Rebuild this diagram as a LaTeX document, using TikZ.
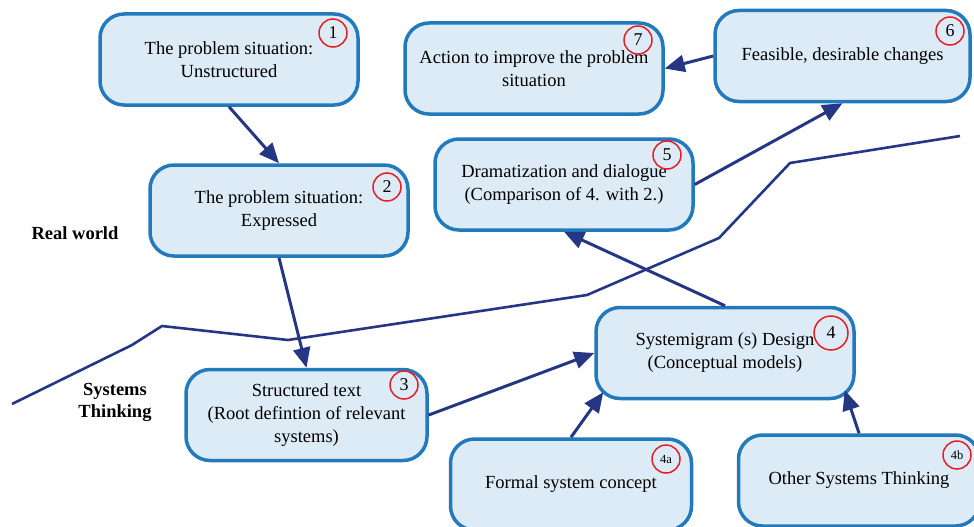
\documentclass[tikz,border=0pt]{standalone}
\usepackage{fontspec}
\setmainfont{Liberation Serif}
\usetikzlibrary{arrows.meta,calc}
\definecolor{boxfill}{RGB}{221,235,247}
\definecolor{boxline}{RGB}{34,122,188}
\definecolor{navy}{RGB}{37,54,133}
\definecolor{badgered}{RGB}{232,30,37}

\begin{document}
\begin{tikzpicture}[x=1pt, y=-1pt,
        box/.style={rectangle, rounded corners=24pt, draw=boxline, fill=boxfill, line width=3.5pt, minimum width=258pt, minimum height=91pt, inner sep=0pt, text centered, align=center, font=\fontsize{18.5}{23}\selectfont},
        badge/.style={circle, draw=badgered, line width=1.5pt, minimum size=28pt, inner sep=0pt, font=\fontsize{18}{18}\selectfont},
        smallbadge/.style={badge, font=\fontsize{12.5}{12.5}\selectfont},
        arrow/.style={-{Triangle[length=20pt,width=17pt]}, line width=3pt, draw=navy},
        side/.style={align=center, font=\bfseries\fontsize{18.5}{22}\selectfont}
    ]
        \clip (0,0) rectangle (974,527);

        % Boundary between the two worlds
        \draw[navy, line width=2.6pt] (12,404) -- (132,345) -- (162,326) -- (288,340) -- (587,295) -- (719,238) -- (790,163) -- (960,136);

        % Real world
        \node[box] (b1) at (229,59.5) {The problem situation:\\Unstructured};
        \node[box] (b2) at (279,210.5) {The problem situation:\\Expressed};
        \node[box] (b5) at (564,184.5) {Dramatization and dialogue\\(Comparison of 4. with 2.)};
        \node[box, minimum width=255pt] (b6) at (842.5,56) {Feasible, desirable changes};
        \node[box] (b7) at (534,68.5) {Action to improve the problem\\situation};

        % Systems thinking
        \node[box, minimum width=241pt] (b3) at (306.5,415) {Structured text\\(Root defintion of relevant\\systems)};
        \node[box] (b4) at (725,353) {Systemigram (s) Design\\(Conceptual models)};
        \node[box, minimum width=241pt] (b4a) at (571,484.5) {Formal system concept};
        \node[box, minimum width=241pt] (b4b) at (859,480.5) {Other Systems Thinking};

        % Step numbers
        \node[badge] (n1) at (333,33) {1};
        \node[badge] (n2) at (387,187) {2};
        \node[badge] (n3) at (404,385) {3};
        \node[badge, minimum size=34pt] (n4) at (831,333) {4};
        \node[badge] (n5) at (667,155) {5};
        \node[badge] (n6) at (950,31) {6};
        \node[badge] (n7) at (638,40) {7};
        \node[smallbadge] (n4a) at (666,459) {4a};
        \node[smallbadge] (n4b) at (957,455) {4b};

        % Arrows
        \draw[arrow] (b1.south) -- (b2.north);
        \draw[arrow] (b2.south) -- (b3.north);
        \draw[arrow] (b3.east) -- (b4.west);
        \draw[arrow] (b4a.north) -- ($(b4.south west)+(9,-8)$);
        \draw[arrow] (b4b.north) -- ($(b4.south east)+(-11,-10)$);
        \draw[arrow] (b4.north) -- (b5.south);
        \draw[arrow] (b5.east) -- (b6.south);
        \draw[arrow] (b6.west) -- (b7.east);

        % Side labels
        \node[side] (real) at (75,233) {Real world};
        \node[side] (sys) at (115,402) {Systems\\Thinking};
    \end{tikzpicture}
\end{document}
